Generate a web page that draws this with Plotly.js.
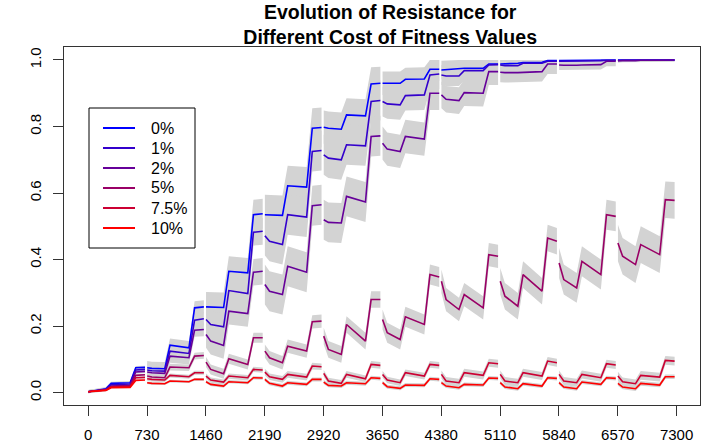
<!DOCTYPE html>
<html><head><meta charset="utf-8">
<script src="https://cdn.plot.ly/plotly-3.0.1.min.js"></script>
<style>html,body{margin:0;padding:0;background:#fff}</style>
</head><body><div id="chart" style="width:703px;height:445px"></div>
<script>
const seriesNames = ['0%', '1%', '2%', '5%', '7.5%', '10%'];
const seriesColors = ['#0000FF', '#3300CC', '#660099', '#990066', '#CC0033', '#FF0000'];
const xTicks = [0, 730, 1460, 2190, 2920, 3650, 4380, 5110, 5840, 6570, 7300];
const yTicks = [0, 0.2, 0.4, 0.6, 0.8, 1.0];
const yTickText = ['0.0', '0.2', '0.4', '0.6', '0.8', '1.0'];
// day offsets inside each 730-day block where values were read
const stepOffsets = [2, 60, 220, 285, 520, 590, 705];

// resistance values per block (10 blocks), read at stepOffsets
const cost0 = [
  [0.003, 0.006, 0.012, 0.028, 0.030, 0.075, 0.076],
  [0.075, 0.073, 0.072, 0.143, 0.135, 0.255, 0.258],
  [0.258, 0.257, 0.256, 0.365, 0.360, 0.535, 0.538],
  [0.535, 0.534, 0.533, 0.622, 0.618, 0.795, 0.797],
  [0.798, 0.795, 0.792, 0.835, 0.832, 0.928, 0.930],
  [0.930, 0.930, 0.930, 0.942, 0.943, 0.972, 0.972],
  [0.970, 0.971, 0.972, 0.975, 0.975, 0.988, 0.988],
  [0.988, 0.988, 0.990, 0.992, 0.993, 0.998, 0.998],
  [0.998, 0.998, 0.998, 0.999, 0.999, 1.000, 1.000],
  [1.000, 1.000, 1.000, 1.000, 1.000, 1.000, 1.000]
];
const cost1 = [
  [0.003, 0.005, 0.010, 0.024, 0.026, 0.068, 0.070],
  [0.068, 0.066, 0.065, 0.125, 0.118, 0.218, 0.222],
  [0.220, 0.205, 0.198, 0.307, 0.298, 0.482, 0.485],
  [0.472, 0.455, 0.445, 0.535, 0.528, 0.725, 0.728],
  [0.715, 0.705, 0.700, 0.745, 0.742, 0.875, 0.878],
  [0.875, 0.868, 0.865, 0.893, 0.895, 0.955, 0.958],
  [0.955, 0.952, 0.952, 0.968, 0.968, 0.985, 0.986],
  [0.985, 0.983, 0.983, 0.990, 0.990, 0.996, 0.996],
  [0.996, 0.996, 0.996, 0.998, 0.998, 0.999, 0.999],
  [0.999, 0.999, 1.000, 1.000, 1.000, 1.000, 1.000]
];
const cost2 = [
  [0.003, 0.005, 0.009, 0.020, 0.022, 0.062, 0.064],
  [0.062, 0.060, 0.058, 0.110, 0.105, 0.188, 0.190],
  [0.175, 0.155, 0.142, 0.245, 0.238, 0.362, 0.365],
  [0.325, 0.305, 0.295, 0.380, 0.362, 0.562, 0.565],
  [0.520, 0.512, 0.510, 0.590, 0.573, 0.770, 0.772],
  [0.750, 0.732, 0.725, 0.770, 0.762, 0.900, 0.900],
  [0.895, 0.882, 0.878, 0.902, 0.900, 0.965, 0.965],
  [0.963, 0.962, 0.962, 0.963, 0.965, 0.988, 0.988],
  [0.985, 0.984, 0.984, 0.985, 0.986, 0.996, 0.996],
  [0.997, 0.998, 0.998, 0.999, 0.999, 1.000, 1.000]
];
const cost5 = [
  [0.003, 0.005, 0.008, 0.018, 0.020, 0.052, 0.054],
  [0.050, 0.047, 0.045, 0.077, 0.075, 0.110, 0.112],
  [0.092, 0.070, 0.057, 0.102, 0.085, 0.165, 0.165],
  [0.125, 0.105, 0.090, 0.140, 0.125, 0.213, 0.215],
  [0.170, 0.130, 0.115, 0.205, 0.155, 0.280, 0.280],
  [0.220, 0.180, 0.160, 0.228, 0.205, 0.355, 0.348],
  [0.335, 0.280, 0.250, 0.295, 0.255, 0.415, 0.410],
  [0.335, 0.290, 0.260, 0.355, 0.305, 0.465, 0.455],
  [0.390, 0.340, 0.315, 0.395, 0.355, 0.535, 0.530],
  [0.450, 0.410, 0.385, 0.445, 0.415, 0.580, 0.578]
];
const cost75 = [
  [0.003, 0.005, 0.008, 0.018, 0.019, 0.045, 0.046],
  [0.042, 0.040, 0.038, 0.052, 0.048, 0.060, 0.060],
  [0.050, 0.038, 0.032, 0.050, 0.045, 0.070, 0.068],
  [0.062, 0.048, 0.040, 0.055, 0.047, 0.080, 0.078],
  [0.058, 0.035, 0.028, 0.055, 0.042, 0.085, 0.082],
  [0.055, 0.038, 0.030, 0.060, 0.050, 0.085, 0.082],
  [0.055, 0.035, 0.030, 0.060, 0.052, 0.090, 0.087],
  [0.055, 0.035, 0.030, 0.060, 0.050, 0.095, 0.090],
  [0.055, 0.035, 0.030, 0.055, 0.045, 0.087, 0.083],
  [0.050, 0.033, 0.027, 0.052, 0.047, 0.097, 0.095]
];
const cost10 = [
  [0.003, 0.004, 0.007, 0.015, 0.016, 0.037, 0.038],
  [0.030, 0.028, 0.027, 0.035, 0.033, 0.040, 0.040],
  [0.033, 0.025, 0.020, 0.033, 0.030, 0.045, 0.044],
  [0.040, 0.028, 0.020, 0.030, 0.025, 0.040, 0.040],
  [0.032, 0.022, 0.020, 0.030, 0.027, 0.045, 0.043],
  [0.030, 0.018, 0.013, 0.023, 0.022, 0.042, 0.040],
  [0.030, 0.020, 0.015, 0.025, 0.023, 0.044, 0.043],
  [0.030, 0.017, 0.012, 0.027, 0.020, 0.045, 0.043],
  [0.030, 0.017, 0.012, 0.032, 0.025, 0.045, 0.043],
  [0.028, 0.017, 0.012, 0.028, 0.023, 0.048, 0.048]
];
// half-width of the grey uncertainty band for each block
const band0  = [0.005, 0.020, 0.045, 0.060, 0.050, 0.035, 0.028, 0.015, 0.005, 0.003];
const band1  = [0.005, 0.020, 0.040, 0.060, 0.060, 0.045, 0.030, 0.020, 0.008, 0.003];
const band2  = [0.005, 0.020, 0.040, 0.060, 0.060, 0.050, 0.040, 0.030, 0.015, 0.005];
const band5  = [0.003, 0.010, 0.015, 0.020, 0.025, 0.030, 0.035, 0.040, 0.045, 0.055];
const band75 = [0.003, 0.006, 0.008, 0.010, 0.010, 0.010, 0.012, 0.012, 0.012, 0.013];
const band10 = [0.002, 0.004, 0.005, 0.006, 0.006, 0.006, 0.006, 0.006, 0.006, 0.007];

const seriesValues = [cost0, cost1, cost2, cost5, cost75, cost10];
const seriesBands = [band0, band1, band2, band5, band75, band10];
const blockStarts = xTicks.slice(0, -1);

const bandTraces = [];
const lineTraces = [];
seriesValues.forEach((blocks, i) => {
  const lx = [], ly = [], bx = [], by = [];
  blocks.forEach((vals, k) => {
    const xs = stepOffsets.map(o => blockStarts[k] + o);
    const w = seriesBands[i][k];
    xs.forEach((x, j) => { lx.push(x); ly.push(vals[j]); });
    lx.push(null); ly.push(null);
    xs.forEach((x, j) => { bx.push(x); by.push(Math.min(1.0, vals[j] + w)); });
    for (let j = xs.length - 1; j >= 0; j--) { bx.push(xs[j]); by.push(vals[j] - w); }
    bx.push(null); by.push(null);
  });
  bandTraces.push({x: bx, y: by, type: 'scatter', mode: 'lines', fill: 'toself',
    fillcolor: 'rgb(211,211,211)', line: {width: 0, color: 'rgba(0,0,0,0)'},
    hoverinfo: 'skip', showlegend: false});
  lineTraces.push({x: lx, y: ly, type: 'scatter', mode: 'lines', name: seriesNames[i],
    line: {color: seriesColors[i], width: 1.6}, connectgaps: false, showlegend: false});
});

// hand-drawn legend box (paper coordinates of the plot area)
const plotL = 64, plotR = 700, plotT = 47, plotB = 405;
const px = v => (v - plotL) / (plotR - plotL);
const py = v => (plotB - v) / (plotB - plotT);
const shapes = [{type: 'rect', xref: 'paper', yref: 'paper', x0: px(89), x1: px(195), y0: py(248), y1: py(108),
  line: {color: '#000', width: 1}, fillcolor: '#fff', layer: 'above'}];
const annotations = [];
seriesNames.forEach((n, i) => {
  const yy = 128 + 20 * i;
  shapes.push({type: 'line', xref: 'paper', yref: 'paper', x0: px(103), x1: px(135), y0: py(yy), y1: py(yy),
    line: {color: seriesColors[i], width: 2}, layer: 'above'});
  annotations.push({xref: 'paper', yref: 'paper', x: px(149), y: py(yy), xanchor: 'left', yanchor: 'middle',
    text: n, showarrow: false, font: {size: 16, color: '#000'}});
});

const font = 'Liberation Sans, Arial, Helvetica, sans-serif';
const layout = {
  width: 703, height: 445,
  margin: {l: 64, r: 3, t: 47, b: 40},
  paper_bgcolor: '#fff', plot_bgcolor: '#fff',
  font: {family: font, color: '#000'},
  title: {text: '<b>Evolution of Resistance for<br>Different Cost of Fitness Values</b>',
    font: {family: font, size: 19.5, color: '#000'},
    x: 0.555, xanchor: 'center', xref: 'container', y: 0.958, yanchor: 'top', yref: 'container'},
  xaxis: {range: [-300, 7590], tickvals: xTicks, ticktext: xTicks.map(String),
    ticks: 'outside', ticklen: 10, tickcolor: '#333', tickwidth: 1, ticklabelstandoff: 6,
    showline: true, mirror: true, linecolor: '#333', linewidth: 1,
    showgrid: false, zeroline: false, tickfont: {size: 15, family: font}},
  yaxis: {range: [-0.037, 1.039], tickvals: yTicks, ticktext: yTickText, tickangle: -90,
    ticks: 'outside', ticklen: 10, tickcolor: '#333', tickwidth: 1, ticklabelstandoff: 6,
    showline: true, mirror: true, linecolor: '#333', linewidth: 1,
    showgrid: false, zeroline: false, tickfont: {size: 15, family: font}},
  shapes: shapes,
  annotations: annotations,
  showlegend: false
};
Plotly.newPlot('chart', bandTraces.concat(lineTraces), layout, {displayModeBar: false, staticPlot: true});
</script></body></html>
